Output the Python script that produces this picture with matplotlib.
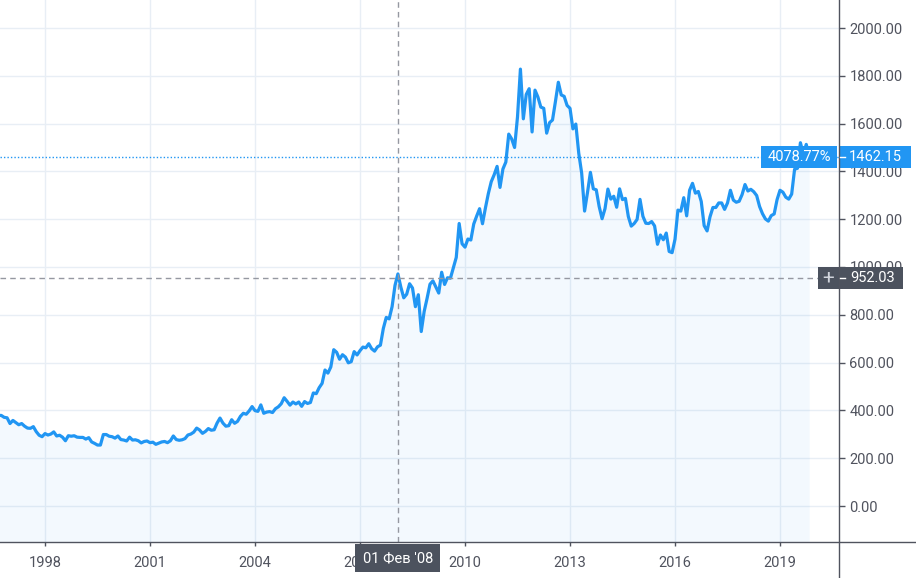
import numpy as np
import matplotlib
matplotlib.use("Agg")
from matplotlib import pyplot as plt
from matplotlib.patches import Rectangle
from matplotlib.lines import Line2D

plt.rcParams['font.family'] = ['Roboto', 'DejaVu Sans']

# monthly closes, first value = Sep 1996
first_year, first_month = 1996, 9
monthly_close = [
    379, 379, 371, 369,
    345, 358, 349, 340, 345, 334, 326, 325, 332, 311, 296, 290,
    303, 297, 301, 310, 293, 296, 288, 273, 294, 292, 294, 288,
    287, 287, 280, 286, 268, 262, 255, 255, 299, 299, 292, 290,
    284, 293, 278, 276, 272, 288, 276, 277, 273, 264, 270, 272,
    265, 267, 258, 263, 268, 270, 265, 273, 293, 278, 275, 277,
    282, 297, 301, 309, 326, 318, 304, 312, 324, 317, 319, 347,
    368, 347, 334, 336, 361, 346, 354, 375, 388, 384, 398, 416,
    399, 396, 423, 388, 393, 395, 391, 407, 415, 428, 453, 438,
    422, 435, 427, 435, 417, 437, 429, 433, 473, 470, 495, 513,
    569, 556, 582, 654, 643, 614, 633, 623, 599, 604, 646, 632,
    650, 665, 662, 679, 658, 648, 666, 673, 743, 789, 783, 834,
    923, 971, 916, 871, 886, 930, 912, 834, 884, 730, 814, 869,
    928, 942, 917, 891, 978, 927, 955, 953, 996, 1040, 1182, 1097,
    1083, 1117, 1113, 1180, 1213, 1244, 1181, 1247, 1307, 1357, 1386, 1421,
    1333, 1410, 1439, 1556, 1536, 1500, 1628, 1828, 1620, 1722, 1746, 1565,
    1740, 1711, 1669, 1664, 1560, 1604, 1615, 1692, 1773, 1720, 1714, 1676,
    1664, 1578, 1598, 1476, 1393, 1234, 1312, 1396, 1327, 1323, 1253, 1202,
    1244, 1326, 1284, 1296, 1250, 1327, 1282, 1287, 1211, 1171, 1182, 1199,
    1283, 1212, 1183, 1182, 1190, 1172, 1095, 1134, 1114, 1142, 1065, 1060,
    1116, 1238, 1234, 1290, 1214, 1321, 1350, 1309, 1316, 1274, 1173, 1151,
    1210, 1249, 1249, 1268, 1268, 1241, 1268, 1321, 1280, 1271, 1275, 1303,
    1345, 1318, 1325, 1315, 1299, 1253, 1223, 1201, 1192, 1215, 1222, 1282,
    1321, 1313, 1292, 1284, 1305, 1409, 1413, 1520, 1472, 1513, 1462.15,
]
year_ticks = [1998, 2001, 2004, 2007, 2010, 2013, 2016, 2019]
price_ticks = [0, 200, 400, 600, 800, 1000, 1200, 1400, 1600, 1800, 2000]
last_price = 1462.15
change_label = "4078.77%"
cross_date = 2008 + 1 / 12
cross_price = 952.03
cross_date_label = "01 Фев '08"

BLUE = '#2196f3'
AXC = '#50535e'
TXT = '#50535e'
W, H = 916, 578

months = np.arange(len(monthly_close))
xs = first_year + (first_month - 1) / 12 + months / 12
ys = np.array(monthly_close, dtype=float)

fig = plt.figure(figsize=(W / 100, H / 100), dpi=100)
ax = fig.add_axes([0, 36 / H, 839 / W, 542 / H])

ax.fill_between(xs, ys, -500, color=BLUE, alpha=0.05, lw=0)
ax.plot(xs, ys, color=BLUE, lw=2.3, solid_joinstyle='round', zorder=3)

ax.set_xlim(1998 - 45 / 35, 1998 + 794 / 35)
ax.set_ylim(-36 / 0.239, 506 / 0.239)

ax.set_xticks(year_ticks)
ax.set_xticklabels([str(y) for y in year_ticks])
ax.set_yticks(price_ticks)
ax.set_yticklabels(['%.2f' % p for p in price_ticks])
ax.yaxis.tick_right()
ax.grid(True, color='#e8eef5', lw=1, zorder=0)
ax.set_axisbelow(True)
for s in ax.spines.values():
    s.set_visible(False)
ax.tick_params(axis='x', direction='out', length=3, width=1, color=AXC,
               labelcolor=TXT, labelsize=10.5, pad=7)
ax.tick_params(axis='y', direction='out', length=4.5, width=1, color=AXC,
               labelcolor=TXT, labelsize=10.5, pad=3)

# last price line
ax.axhline(last_price, color=BLUE, lw=1, ls=(0, (1, 1.5)), zorder=2)

# crosshair
ax.axvline(cross_date, color='#9598a1', lw=1, ls=(0, (4, 3)), zorder=4)
ax.axhline(cross_price, color='#9598a1', lw=1, ls=(0, (4, 3)), zorder=4)

fig.canvas.draw()


def to_px(x, y):
    dx, dy = ax.transData.transform((x, y))
    return dx, H - dy


def box(x0, x1, yc, h, color):
    fig.add_artist(Rectangle((x0 / W, 1 - (yc + h / 2) / H), (x1 - x0) / W, h / H,
                             transform=fig.transFigure, color=color, lw=0, zorder=10))


def ftext(x, y, s, size=10.5, **kw):
    fig.text(x / W, 1 - y / H, s, va='center', zorder=11, fontsize=size, **kw)


def dash(x0, x1, y, color):
    fig.add_artist(Line2D([x0 / W, x1 / W], [1 - y / H] * 2, color=color, lw=1, zorder=13))


# axis lines
fig.add_artist(Line2D([0, 1], [1 - 542 / H] * 2, color=AXC, lw=1, zorder=12))
fig.add_artist(Line2D([839 / W] * 2, [0, 1], color=AXC, lw=1, zorder=12))

# last price labels
_, ly = to_px(0, last_price)
box(761, 837, ly, 22, BLUE)
box(840, 911, ly, 22, BLUE)
ftext(799, ly, change_label, color='white', ha='center')
ftext(849, ly, "%.2f" % last_price, color='white', ha='left')
dash(840, 845, ly, 'white')

# crosshair price label
_, cy = to_px(0, cross_price)
box(818, 903, cy, 22, '#4c525e')
ftext(828, cy - 0.5, "+", size=15, color='#d1d4dc', ha='center')
ftext(850, cy, "%.2f" % cross_price, color='white', ha='left')
dash(840, 845, cy, 'white')

# crosshair date label
cx, _ = to_px(cross_date, 0)
box(cx - 43, cx + 42, 558, 28, '#4c525e')
ftext(cx, 558, cross_date_label, color='white', ha='center')

fig.savefig('out.png', dpi=100)
